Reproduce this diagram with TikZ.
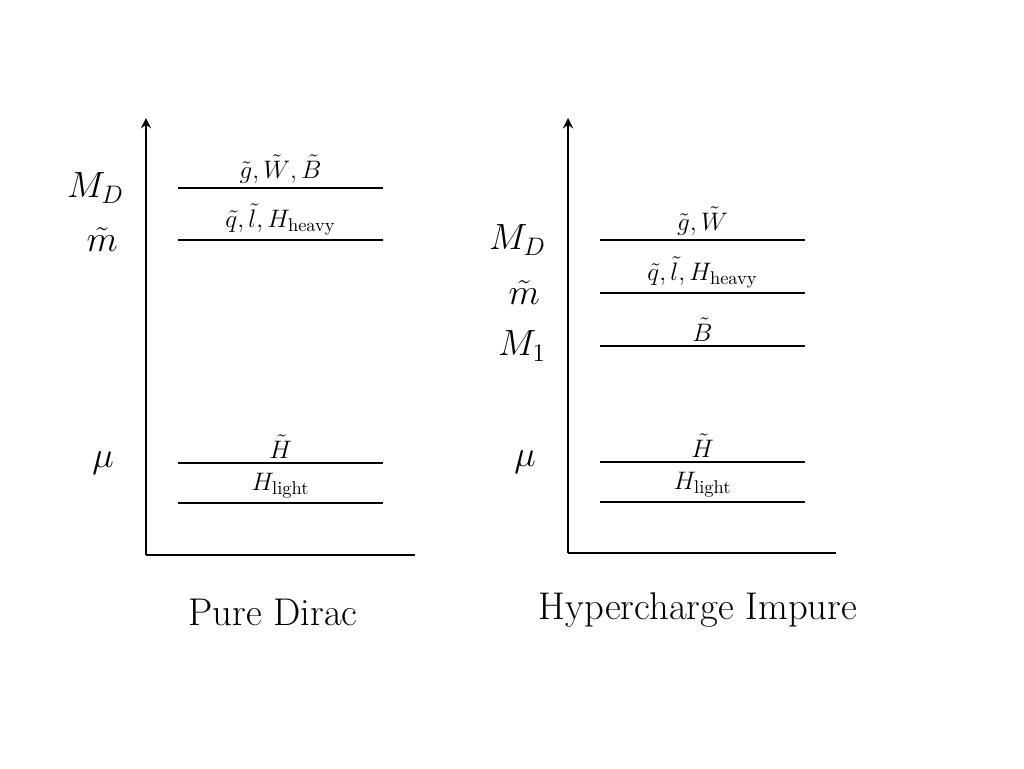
\documentclass[tikz,border=0pt]{standalone}
\usepackage{amsmath}
\usepackage{amssymb}
\usetikzlibrary{arrows}
\tikzset{
	axis/.style  = {line width=1.6pt},
	level/.style = {line width=1.6pt},
	mass/.style  = {font=\huge, anchor=east},
	part/.style  = {font=\fontsize{15}{18}\selectfont, above=0pt, inner sep=2pt},
	caption/.style = {font=\fontsize{22}{26}\selectfont}
}
\begin{document}
\begin{tikzpicture}[x=0.02cm, y=-0.02cm, >=stealth]
	\useasboundingbox (0,0) rectangle (1024,768);
	% pure dirac
	\coordinate (o1) at (146,555);
	\coordinate (t1) at (146,118);
	\coordinate (r1) at (415,555);
	\draw[axis,->] (o1) -- (t1);
	\draw[axis] (o1) -- (r1);
	\foreach \y/\n/\t in {188/a/{$\tilde g,\tilde W,\tilde B$}, 240/b/{$\tilde q,\tilde l,H_{\text{heavy}}$}, 463/c/{$\tilde H$}, 503/d/{$H_{\text{light}}$}}{
		\coordinate (l1\n) at (178,\y);
		\coordinate (r1\n) at (383,\y);
		\draw[level] (l1\n) -- node[part] {\t} (r1\n);
	}
	\node[mass] (md1) at (130,188) {$M_D$};
	\node[mass] (m1) at (124,240) {$\tilde m$};
	\node[mass] (mu1) at (120,463) {$\mu$};
	\node[caption] (c1) at (273,612) {Pure Dirac};
	% hypercharge impure
	\coordinate (o2) at (568,553);
	\coordinate (t2) at (568,118);
	\coordinate (r2) at (836,553);
	\draw[axis,->] (o2) -- (t2);
	\draw[axis] (o2) -- (r2);
	\foreach \y/\n/\t in {240/a/{$\tilde g,\tilde W$}, 293/b/{$\tilde q,\tilde l,H_{\text{heavy}}$}, 346/e/{$\tilde B$}, 462/c/{$\tilde H$}, 502/d/{$H_{\text{light}}$}}{
		\coordinate (l2\n) at (600,\y);
		\coordinate (r2\n) at (805,\y);
		\draw[level] (l2\n) -- node[part] {\t} (r2\n);
	}
	\node[mass] (md2) at (552,240) {$M_D$};
	\node[mass] (m2) at (546,293) {$\tilde m$};
	\node[mass] (mm2) at (552,346) {$M_1$};
	\node[mass] (mu2) at (542,462) {$\mu$};
	\node[caption] (c2) at (698,610) {Hypercharge Impure};
\end{tikzpicture}
\end{document}
